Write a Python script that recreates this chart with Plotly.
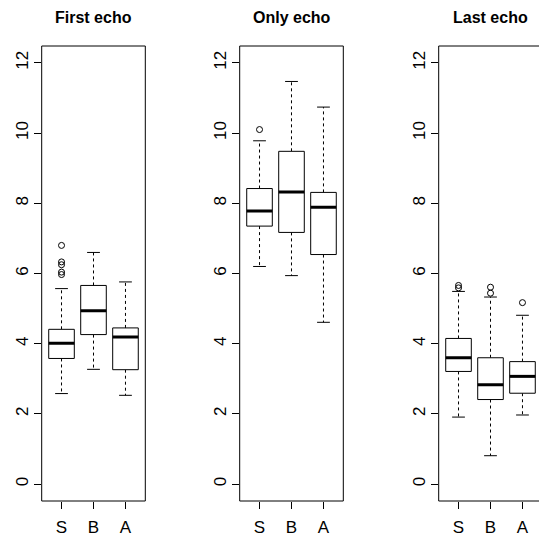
import plotly.graph_objects as go

# ---------------- data ----------------
groups = ["S", "B", "A"]
panel_titles = ["First echo", "Only echo", "Last echo"]
y_ticks = [0, 2, 4, 6, 8, 10, 12]

first_lower = [2.58, 3.27, 2.53]
first_q1 = [3.58, 4.26, 3.26]
first_median = [4.01, 4.94, 4.19]
first_q3 = [4.41, 5.66, 4.45]
first_upper = [5.57, 6.60, 5.76]
first_outliers = [[6.80, 6.33, 6.25, 6.04, 5.97], [], []]

only_lower = [6.20, 5.94, 4.61]
only_q1 = [7.35, 7.17, 6.54]
only_median = [7.78, 8.32, 7.89]
only_q3 = [8.42, 9.48, 8.31]
only_upper = [9.78, 11.47, 10.74]
only_outliers = [[10.10], [], []]

last_lower = [1.91, 0.81, 1.97]
last_q1 = [3.21, 2.41, 2.59]
last_median = [3.60, 2.83, 3.07]
last_q3 = [4.15, 3.60, 3.49]
last_upper = [5.49, 5.33, 4.81]
last_outliers = [[5.66, 5.59], [5.61, 5.44], [5.17]]

panels = [
    (first_lower, first_q1, first_median, first_q3, first_upper, first_outliers),
    (only_lower, only_q1, only_median, only_q3, only_upper, only_outliers),
    (last_lower, last_q1, last_median, last_q3, last_upper, last_outliers),
]

# ---------------- layout geometry ----------------
W, H = 539, 536
px_left = [41.7, 239.7, 438.7]
panel_w = 103.6
unit = panel_w / 3.24
y_bottom_px, y_top_px = 501.0, 46.0
ydom = [(H - y_bottom_px) / H, (H - y_top_px) / H]
FONT = "Liberation Sans, Arial, Helvetica, sans-serif"

fig = go.Figure()
BOXW = 0.4
CAPW = 0.2

for p, (lo, q1, med, q3, up, outs) in enumerate(panels):
    xa = "x" if p == 0 else f"x{p+1}"
    ya = "y" if p == 0 else f"y{p+1}"
    bx, by, mx, my, wx, wy, cx, cy, ox, oy = [], [], [], [], [], [], [], [], [], []
    for i in range(len(groups)):
        c = i + 1
        bx += [c - BOXW, c + BOXW, c + BOXW, c - BOXW, c - BOXW, None]
        by += [q1[i], q1[i], q3[i], q3[i], q1[i], None]
        mx += [c - BOXW, c + BOXW, None]
        my += [med[i], med[i], None]
        wx += [c, c, None, c, c, None]
        wy += [q3[i], up[i], None, q1[i], lo[i], None]
        cx += [c - CAPW, c + CAPW, None, c - CAPW, c + CAPW, None]
        cy += [up[i], up[i], None, lo[i], lo[i], None]
        for v in outs[i]:
            ox.append(c)
            oy.append(v)
    fig.add_trace(go.Scatter(x=wx, y=wy, mode="lines", xaxis=xa, yaxis=ya,
                             line=dict(color="black", width=1, dash="3px,3px"),
                             showlegend=False, hoverinfo="skip"))
    fig.add_trace(go.Scatter(x=cx, y=cy, mode="lines", xaxis=xa, yaxis=ya,
                             line=dict(color="black", width=1),
                             showlegend=False, hoverinfo="skip"))
    fig.add_trace(go.Scatter(x=bx, y=by, mode="lines", xaxis=xa, yaxis=ya,
                             line=dict(color="black", width=1),
                             fill="toself", fillcolor="white",
                             showlegend=False, hoverinfo="skip"))
    fig.add_trace(go.Scatter(x=mx, y=my, mode="lines", xaxis=xa, yaxis=ya,
                             line=dict(color="black", width=3),
                             showlegend=False, hoverinfo="skip"))
    fig.add_trace(go.Scatter(x=ox, y=oy, mode="markers", xaxis=xa, yaxis=ya,
                             marker=dict(symbol="circle-open", size=6,
                                         color="black", line=dict(width=1)),
                             showlegend=False, hoverinfo="skip"))

    x0 = px_left[p]
    x1 = min(x0 + panel_w, W)
    xr_hi = 0.38 + (x1 - x0) / unit
    axis_key = "xaxis" if p == 0 else f"xaxis{p+1}"
    yaxis_key = "yaxis" if p == 0 else f"yaxis{p+1}"
    fig.layout[axis_key] = dict(
        domain=[x0 / W, x1 / W], range=[0.38, xr_hi], anchor=ya,
        tickmode="array", tickvals=[1, 2, 3], ticktext=groups,
        ticks="outside", ticklen=7, tickwidth=1, tickcolor="black",
        showgrid=False, zeroline=False, showline=False,
        tickfont=dict(family=FONT, size=17, color="black"),
        ticklabelstandoff=4, fixedrange=True,
    )
    fig.layout[yaxis_key] = dict(
        domain=ydom, range=[-0.48, 12.48], anchor=xa,
        tickmode="array", tickvals=y_ticks, ticktext=[str(t) for t in y_ticks],
        ticks="outside", ticklen=7, tickwidth=1, tickcolor="black",
        tickangle=-90, showgrid=False, zeroline=False, showline=False,
        tickfont=dict(family=FONT, size=17, color="black"),
        ticklabelstandoff=-1, fixedrange=True,
    )
    # border
    xd = f"{xa} domain"
    yd = f"{ya} domain"
    if x0 + panel_w <= W:
        fig.add_shape(type="rect", xref=xd, yref=yd, x0=0, x1=1, y0=0, y1=1,
                      line=dict(color="black", width=1))
    else:
        for seg in [(0, 0, 0, 1), (0, 1, 1, 1), (0, 0, 1, 0)]:
            fig.add_shape(type="line", xref=xd, yref=yd, x0=seg[0], x1=seg[2],
                          y0=seg[1], y1=seg[3], line=dict(color="black", width=1))
    fig.add_annotation(text=f"<b>{panel_titles[p]}</b>", xref="paper", yref="paper",
                       x=(x0 + panel_w / 2) / W, y=(H - 17) / H,
                       xanchor="center", yanchor="middle", showarrow=False,
                       font=dict(family=FONT, size=16, color="black"))

fig.update_layout(width=W, height=H, margin=dict(l=0, r=0, t=0, b=0),
                  paper_bgcolor="white", plot_bgcolor="white")
fig.write_html("out.html")
